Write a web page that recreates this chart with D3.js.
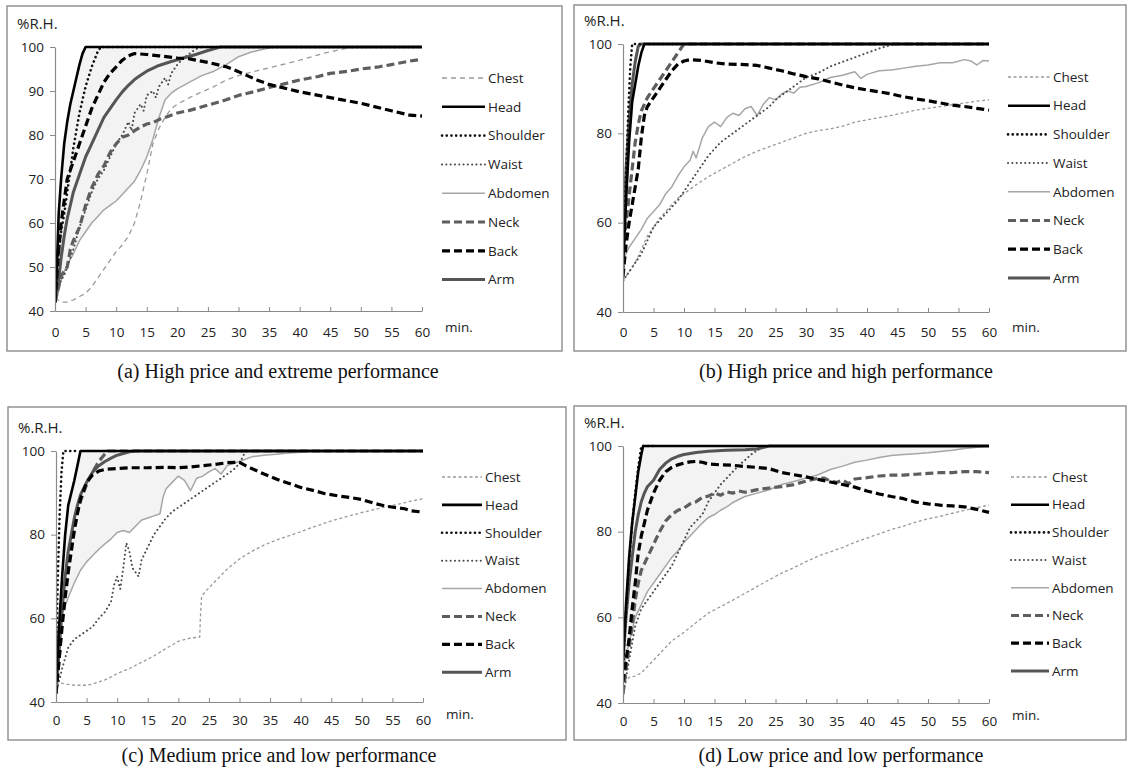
<!DOCTYPE html>
<html>
<head>
<meta charset="utf-8">
<script src="https://cdn.jsdelivr.net/npm/d3@7"></script>
<style>
  body { margin: 0; background: #fff; }
  svg { display: block; }
</style>
</head>
<body>
<div id="chart"></div>
<script>
// ---- data: [minute, %R.H.]
const seriesNames = ['Chest', 'Head', 'Shoulder', 'Waist', 'Abdomen', 'Neck', 'Back', 'Arm'];
const xTicks = [0, 5, 10, 15, 20, 25, 30, 35, 40, 45, 50, 55, 60];
const yTicksA = [40, 50, 60, 70, 80, 90, 100];
const yTicksB = [40, 60, 80, 100];

// (a) high price, extreme performance
const aChest = [[0,43],[1,42],[2,42],[3,42.5],[4,43.3],[5,44],[6,45.5],[7,47.5],[8,49.5],[9,51.5],[10,53.5],[11,55],[12,57],[13,60],[14,65],[15,71],[16,78],[17,81.5],[18,84],[19,86],[20,87],[22,88.5],[24,89.8],[26,91],[28,92.5],[30,93.5],[33,94.6],[36,95.6],[40,97],[44,98.6],[47,99.5],[49,100],[60,100]];
const aHead = [[0,42],[0.3,50],[0.6,62],[1,70],[1.5,78],[2,83],[2.5,87],[3,90],[3.5,93],[4,96],[4.5,98.5],[5,100],[60,100]];
const aShoulder = [[0,42],[0.5,52],[1,58],[1.5,62],[2,67],[3,77],[4,85],[5,91],[6,95.5],[7,99],[7.5,100],[60,100]];
const aWaist = [[0,42],[0.5,45],[1,47],[1.5,48],[2,50],[3,54],[4,59],[5,63],[6,67],[7,70],[8,72],[9,75],[10,78],[11,80],[12,83],[12.5,81],[13,85],[14,87],[14.5,85.5],[15,89],[16,90],[16.5,88.5],[17,91],[18,93],[18.5,91.5],[19,94],[20,96],[21,97.5],[22,98.5],[23,99.5],[24,100],[60,100]];
const aAbdomen = [[0,42],[0.5,44],[1,47],[1.5,49],[2,50.5],[3,53],[4,56],[5,58],[6,60],[7,61.5],[8,63],[9,64],[10,65],[11,66.5],[12,68],[13,69.5],[14,72],[15,75],[16,79],[17,84],[18,88],[19,89.5],[20,90.5],[22,92],[24,93.5],[26,94.5],[28,96],[30,97.8],[32,98.8],[34,99.5],[36,100],[60,100]];
const aNeck = [[0,42],[0.5,45],[1,48],[1.5,49],[2,50],[2.5,54],[3,56],[4,59],[5,64],[6,68],[7,71],[8,73],[9,76],[10,78],[11,79.5],[12,80],[13,81],[14,81.8],[15,82.5],[16,82.8],[17,83.5],[18,84],[20,85],[22,85.6],[25,86.8],[28,88],[30,89],[33,90],[35,90.8],[38,91.8],[40,92.5],[43,93.3],[45,94],[48,94.5],[50,95],[53,95.5],[55,96],[58,96.8],[60,97.2]];
const aBack = [[0,42],[0.5,52],[1,60],[1.5,65],[2,70],[3,74],[4,78],[5,82],[6,86],[7,89],[8,92],[9,94],[10,95.5],[11,97],[12,98],[13,98.5],[15,98.3],[17,98],[20,97.5],[22,97.3],[25,96.5],[28,95.5],[30,94.4],[33,92.5],[35,91.5],[38,90.5],[40,89.8],[45,88.5],[50,87.2],[55,85.5],[58,84.5],[60,84.3]];
const aArm = [[0,42],[0.5,46],[1,52],[1.5,57],[2,61],[2.5,64],[3,67],[4,71],[5,75],[6,78],[7,81],[8,84],[9,86],[10,88],[11,89.8],[12,91.3],[13,92.6],[14,93.6],[15,94.5],[17,95.8],[19,96.7],[21,97.5],[23,98.3],[25,99.2],[27,100],[60,100]];

// (b) high price, high performance
const bChest = [[0,47],[1,49],[2,51],[3,54],[4,57],[5,59],[6,61],[7,62.5],[8,64],[9,65.5],[10,66.5],[12,68.5],[14,70.3],[16,71.8],[18,73.3],[20,74.8],[22,76],[24,77],[26,78],[28,79],[30,80],[32,80.6],[34,81],[36,81.6],[38,82.5],[40,83],[42,83.5],[44,84],[46,84.6],[48,85.2],[50,85.6],[52,86],[54,86.4],[56,86.8],[58,87.2],[60,87.5]];
const bHead = [[0,50],[0.5,65],[1,78],[1.5,87],[2,91],[2.5,95],[3,98],[3.5,100],[60,100]];
const bShoulder = [[0,47],[0.3,62],[0.6,75],[0.9,86],[1.2,95],[1.5,100],[60,100]];
const bWaist = [[0,47],[1,49],[2,51],[3,53],[4,56],[5,59],[6,60.5],[7,62],[8,63.5],[9,65],[10,67],[11,69],[12,71],[13,73],[14,75],[15,76.5],[16,78],[17,79],[18,80],[19,81],[20,82],[21,83],[22,84],[23,85],[24,86],[25,87.5],[26,88.5],[27,89.5],[28,90.5],[29,91.5],[30,92.5],[32,93.5],[34,95],[36,96],[38,97],[40,98],[42,99],[44,99.8],[45,100],[60,100]];
const bAbdomen = [[0,52],[0.5,53],[1,54.5],[2,56.5],[3,58.5],[4,61],[5,62.5],[6,64],[7,66.5],[8,68],[9,70.5],[10,72.5],[11,74],[11.5,76],[12,74.5],[13,79],[14,81.5],[15,82.5],[16,81.5],[17,83.5],[18,84.5],[19,84],[20,85.5],[21,86],[22,84],[23,86.5],[24,88],[25,87.5],[26,88.8],[27,89.5],[28,89],[29,90.3],[30,90.5],[32,91.3],[34,92.5],[36,93],[38,93.8],[39,92.3],[40,93.2],[42,94],[44,94.2],[46,94.6],[48,95],[50,95.3],[52,95.8],[54,95.8],[56,96.5],[57,96.2],[58,95.3],[59,96.3],[60,96.2]];
const bNeck = [[0,53],[0.5,60],[1,66],[1.5,72],[2,78],[2.5,82],[3,85],[4,88],[5,90],[6,92],[7,94],[8,96],[9,98],[10,100],[60,100]];
const bBack = [[0,48],[0.5,55],[1,60],[1.5,64],[2,68],[2.5,72],[3,79],[3.5,84],[4,86],[5,88],[6,90],[7,92],[8,94],[9,95.5],[10,96.2],[11,96.5],[13,96.3],[15,95.8],[17,95.5],[20,95.4],[22,95.2],[24,94.6],[26,94],[28,93.3],[30,92.7],[32,92.2],[34,91.5],[36,90.8],[38,90.2],[40,89.7],[42,89.3],[44,88.8],[46,88.2],[48,87.7],[50,87.3],[52,86.8],[54,86.3],[56,86],[58,85.6],[60,85.2]];
const bArm = [[0,55],[0.5,72],[1,83],[1.5,91],[2,96],[2.5,99.5],[3,100],[60,100]];

// (c) medium price, low performance
const cChest = [[0,45],[1,44.5],[2,44.2],[3,44],[4,44],[5,44],[6,44.3],[7,44.8],[8,45.3],[9,46],[10,46.8],[12,48],[14,49.5],[16,51],[18,52.8],[20,54.5],[22,55.3],[23.5,55.5],[23.6,60],[23.8,65.3],[24.5,66.5],[25,67.3],[26,68.8],[27,70.3],[28,71.8],[29,73],[30,74.2],[32,76],[34,77.5],[36,78.7],[38,79.7],[40,80.7],[42,81.8],[44,82.8],[46,83.7],[48,84.5],[50,85.3],[52,86],[54,86.7],[56,87.3],[58,88],[60,88.6]];
const cHead = [[0,45],[0.5,58],[1,70],[1.5,80],[2,87],[2.5,90],[3,93],[3.5,96.5],[4,100],[60,100]];
const cShoulder = [[0,50],[0.3,70],[0.6,85],[0.9,95],[1.2,100],[3.5,100]];
const cWaist = [[0,42],[1,48],[2,53],[3,55],[4,56],[5,57],[6,58],[7,60],[8,61.5],[9,64],[9.5,68],[10,70],[10.5,67],[11,72],[11.5,78],[12,76],[12.5,72],[13,71],[13.5,70],[14,74],[15,77],[16,80],[17,82],[18,84],[19,85.5],[20,86.5],[21,87.5],[22,88.5],[23,89.5],[24,90.5],[25,91.5],[26,92.5],[27,93.5],[28,94.5],[29,95.5],[30,97],[31,100],[60,100]];
const cAbdomen = [[0,55],[0.5,58],[1,61],[2,65],[3,68.5],[4,71.5],[5,73.5],[6,75],[7,76.5],[8,77.8],[9,79],[10,80.5],[11,81],[12,80.5],[13,82],[14,83.5],[15,84],[16,84.5],[17,85],[17.5,89],[18,91],[19,92.5],[20,94],[21,93],[22,90.5],[22.5,92],[23,93.5],[24,94],[25,95],[26,95.8],[27,94.5],[28,96.5],[29,97],[30,97.5],[32,98.6],[34,99],[36,99.2],[38,99.5],[40,99.7],[41.5,100],[60,100]];
const cNeck = [[0,42],[0.5,50],[1,60],[1.5,68],[2,74],[2.5,79],[3,83],[4,88],[5,92],[6,95],[7,97.5],[8,99.3],[8.5,100],[60,100]];
const cBack = [[0,42],[0.5,50],[1,58],[1.5,65],[2,71],[2.5,76],[3,81],[3.5,85],[4,88.5],[5,92.5],[6,94.3],[7,95.2],[8,95.6],[10,95.8],[12,96],[15,96],[18,96.1],[20,96],[22,96.2],[24,96.5],[26,96.8],[28,97.2],[30,97.3],[31,96.5],[32,95.8],[34,94.5],[36,93.3],[38,92.3],[40,91.3],[42,90.6],[44,89.8],[46,89.3],[48,88.9],[50,88.4],[52,87.5],[54,86.8],[56,86.4],[57,86.2],[58,85.7],[60,85.4]];
const cArm = [[0,42],[0.5,52],[1,62],[1.5,70],[2,76],[2.5,80],[3,84],[3.5,87],[4,89.5],[5,92.5],[6,95],[7,96.5],[8,97.5],[9,98.3],[10,99],[12,99.8],[13,100],[60,100]];

// (d) low price, low performance
const dChest = [[0,42],[0.5,45],[1,46],[2,46.3],[3,47],[4,48.5],[5,50],[6,51.5],[7,53],[8,54.5],[9,55.5],[10,56.5],[12,58.8],[14,61],[16,62.5],[18,64],[20,65.6],[22,67.2],[24,68.8],[26,70.3],[28,71.6],[30,73],[32,74.3],[34,75.3],[36,76.3],[38,77.5],[40,78.5],[42,79.5],[44,80.5],[46,81.3],[48,82.2],[50,83],[52,83.6],[54,84.3],[56,85],[58,85.6],[60,86.2]];
const dHead = [[0,50],[0.5,63],[1,74],[1.5,82],[2,88],[2.5,94],[3,98],[3.3,100],[60,100]];
const dShoulder = [[0,48],[0.5,62],[1,73],[1.5,82],[2,89],[2.5,95],[3,100],[5,100]];
const dWaist = [[0,42],[1,50],[2,58],[3,62],[4,64],[5,66],[6,68],[7,70],[8,72],[9,75],[10,78],[11,81],[12,82.5],[13,84],[14,87],[15,89],[16,91],[17,92.5],[18,94],[19,95.5],[20,96.7],[21,98],[22,99],[23,99.7],[24,100],[60,100]];
const dAbdomen = [[0,48],[1,54],[2,60],[3,63],[4,66],[5,68],[6,70],[7,72],[8,74],[9,75.5],[10,77.5],[11,79],[12,80.5],[13,82],[14,83.3],[15,84],[16,85],[17,85.8],[18,86.8],[19,87.5],[20,88.2],[22,89],[24,89.8],[26,91],[28,91.7],[30,92.5],[32,93.3],[34,94.5],[36,95.3],[38,96.2],[40,96.7],[42,97.3],[44,97.8],[46,98],[48,98.2],[50,98.4],[52,98.7],[54,99],[56,99.4],[58,99.7],[60,100]];
const dNeck = [[0,42],[0.5,48],[1,53],[1.5,58],[2,64],[2.5,68],[3,71],[4,74],[5,77],[6,80],[7,82.5],[8,84],[9,85],[10,85.5],[11,86.5],[12,87],[13,88],[14,88.3],[15,89],[16,88.5],[17,89.3],[18,89],[19,89.5],[20,89.2],[22,89.8],[24,90.2],[26,90.5],[28,91],[30,91.8],[32,92.5],[33,92.5],[34,91.8],[35,91.5],[36,92],[37,91.2],[38,92.3],[40,92.6],[42,93],[44,93.2],[46,93.2],[48,93.4],[50,93.6],[52,93.8],[54,93.8],[56,94],[58,94],[60,93.8]];
const dBack = [[0,45],[0.5,50],[1,55],[1.5,62],[2,68],[2.5,75],[3,79],[3.5,82],[4,85],[5,89],[6,92],[7,94],[8,95],[9,95.6],[10,96],[11,96.3],[12,96.4],[13,96.2],[14,95.8],[16,95.6],[18,95.5],[20,95.2],[22,95],[24,94.7],[26,93.8],[28,93.3],[30,92.8],[32,92.2],[34,91.6],[35,91.3],[36,91],[38,90.4],[40,89.5],[42,88.8],[44,88.2],[46,87.7],[48,86.9],[50,86.5],[52,86.2],[54,86],[56,85.8],[58,85.2],[60,84.5]];
const dArm = [[0,50],[0.5,60],[1,68],[1.5,74],[2,80],[2.5,84],[3,87],[3.5,89],[4,90.5],[5,92],[6,94.5],[7,96],[8,97],[9,97.6],[10,98],[12,98.5],[14,98.8],[17,99],[20,99.1],[22,99.3],[24,100],[60,100]];

// line look for each body part
const styles = {
  Chest:    { stroke: '#9a9a9a', width: 1.3, dash: '3,2.5', cap: 'butt' },
  Head:     { stroke: '#000',    width: 2.6, dash: null,    cap: 'butt' },
  Shoulder: { stroke: '#111',    width: 2.6, dash: '0.1,4.6', cap: 'round' },
  Waist:    { stroke: '#4a4a4a', width: 2.0, dash: '0.1,4.2', cap: 'round' },
  Abdomen:  { stroke: '#a6a6a6', width: 1.5, dash: null,    cap: 'butt' },
  Neck:     { stroke: '#5e5e5e', width: 3.2, dash: '8,4',   cap: 'butt' },
  Back:     { stroke: '#000',    width: 3.2, dash: '8,4',   cap: 'butt' },
  Arm:      { stroke: '#555',    width: 3.0, dash: null,    cap: 'butt' },
};

const panels = [
  { caption: '(a) High price and extreme performance', yLabel: '%R.H.', yTicks: yTicksA,
    data: { Chest: aChest, Head: aHead, Shoulder: aShoulder, Waist: aWaist, Abdomen: aAbdomen, Neck: aNeck, Back: aBack, Arm: aArm },
    box: [7, 6, 555, 345], plot: [55, 422, 47, 311], legend: [442, 485, 78, 28.8],
    cap: [278, 378], labelPad: 16, minDy: 21, shade: true, chestDash: '5,4' },
  { caption: '(b) High price and high performance', yLabel: '%R.H.', yTicks: yTicksB,
    data: { Chest: bChest, Head: bHead, Shoulder: bShoulder, Waist: bWaist, Abdomen: bAbdomen, Neck: bNeck, Back: bBack, Arm: bArm },
    box: [574, 5, 552, 346], plot: [623, 989, 44, 312], legend: [1008, 1050, 77, 28.7],
    cap: [846, 378], labelPad: 15, minDy: 20, shade: false },
  { caption: '(c) Medium price and low performance', yLabel: '%.R.H.', yTicks: yTicksB,
    data: { Chest: cChest, Head: cHead, Shoulder: cShoulder, Waist: cWaist, Abdomen: cAbdomen, Neck: cNeck, Back: cBack, Arm: cArm },
    box: [8, 407, 558, 333], plot: [56, 423, 451, 702], legend: [442, 482, 477, 27.9],
    cap: [279, 762], labelPad: 13, minDy: 17, shade: true },
  { caption: '(d) Low price and low performance', yLabel: '%R.H.', yTicks: yTicksB,
    data: { Chest: dChest, Head: dHead, Shoulder: dShoulder, Waist: dWaist, Abdomen: dAbdomen, Neck: dNeck, Back: dBack, Arm: dArm },
    box: [574, 406, 552, 334], plot: [623, 989, 446, 703], legend: [1011, 1049, 477, 27.7],
    cap: [841, 762], labelPad: 13, minDy: 17, shade: true },
];

const W = 1130, H = 778;
const svg = d3.select('#chart').append('svg')
  .attr('width', W).attr('height', H)
  .style('font-family', '"Open Sans", sans-serif');

panels.forEach((p, i) => {
  const [bx, by, bw, bh] = p.box;
  const [left, right, top, bottom] = p.plot;
  const g = svg.append('g');

  g.append('rect')
    .attr('x', bx).attr('y', by).attr('width', bw).attr('height', bh)
    .attr('fill', '#fff').attr('stroke', '#8c8c8c').attr('stroke-width', 1.4);

  const x = d3.scaleLinear().domain([0, 60]).range([left, right]);
  const y = d3.scaleLinear().domain([40, 100]).range([bottom, top]);

  // clip so the lines stop at the axes
  const clipId = 'clip' + i;
  svg.append('clipPath').attr('id', clipId).append('rect')
    .attr('x', left).attr('y', top - 3).attr('width', right - left + 1).attr('height', bottom - top + 3);

  const plotG = g.append('g').attr('clip-path', `url(#${clipId})`);

  const line = d3.line().x(d => x(d[0])).y(d => y(d[1]));

  // faint band between the head curve and the abdomen curve
  if (p.shade) {
    const band = p.data.Head.concat(p.data.Abdomen.slice().reverse());
    plotG.append('path')
      .attr('fill', '#f3f3f3')
      .attr('stroke', 'none')
      .attr('d', line(band) + 'Z');
  }

  // axes
  const yAxis = g.append('g')
    .attr('transform', `translate(${left},0)`)
    .call(d3.axisLeft(y).tickValues(p.yTicks).tickSizeInner(5).tickSizeOuter(0).tickPadding(6));
  const xAxis = g.append('g')
    .attr('transform', `translate(0,${bottom})`)
    .call(d3.axisBottom(x).tickValues(xTicks).tickSizeInner(-4).tickSizeOuter(0).tickPadding(p.labelPad));
  [yAxis, xAxis].forEach(ax => {
    ax.select('.domain').attr('stroke', '#8a8a8a').attr('stroke-width', 1.2);
    ax.selectAll('.tick line').attr('stroke', '#8a8a8a');
    ax.selectAll('.tick text').attr('fill', '#222')
      .style('font-size', '13.5px').style('font-family', '"Open Sans", sans-serif');
  });

  // draw lighter lines first, dark on top
  const order = ['Chest', 'Abdomen', 'Waist', 'Neck', 'Arm', 'Back', 'Shoulder', 'Head'];
  order.forEach(name => {
    const s = styles[name];
    const dash = name === 'Chest' && p.chestDash ? p.chestDash : s.dash;
    plotG.append('path')
      .datum(p.data[name])
      .attr('fill', 'none')
      .attr('stroke', s.stroke)
      .attr('stroke-width', s.width)
      .attr('stroke-dasharray', dash)
      .attr('stroke-linecap', s.cap)
      .attr('stroke-linejoin', 'round')
      .attr('d', line);
  });

  // axis titles
  g.append('text')
    .attr('x', bx + 10).attr('y', top - 18)
    .attr('font-size', 15).attr('fill', '#222')
    .text(p.yLabel);
  g.append('text')
    .attr('x', right + 23).attr('y', bottom + p.minDy)
    .attr('font-size', 13.5).attr('fill', '#222')
    .text('min.');

  // legend
  const [lx0, lx1, ly0, lstep] = p.legend;
  seriesNames.forEach((name, k) => {
    const s = styles[name];
    const dash = name === 'Chest' && p.chestDash ? p.chestDash : s.dash;
    const ly = ly0 + k * lstep;
    g.append('line')
      .attr('x1', lx0).attr('x2', lx1).attr('y1', ly).attr('y2', ly)
      .attr('stroke', s.stroke).attr('stroke-width', s.width)
      .attr('stroke-dasharray', dash).attr('stroke-linecap', s.cap);
    g.append('text')
      .attr('x', lx1 + 3).attr('y', ly).attr('dy', '0.35em')
      .attr('font-size', 13.5).attr('fill', '#222')
      .text(name);
  });

  // caption under the panel
  svg.append('text')
    .attr('x', p.cap[0]).attr('y', p.cap[1])
    .attr('text-anchor', 'middle')
    .style('font-family', '"Liberation Serif", "Times New Roman", serif')
    .attr('font-size', 20).attr('fill', '#111')
    .text(p.caption);
});
</script>
</body>
</html>
